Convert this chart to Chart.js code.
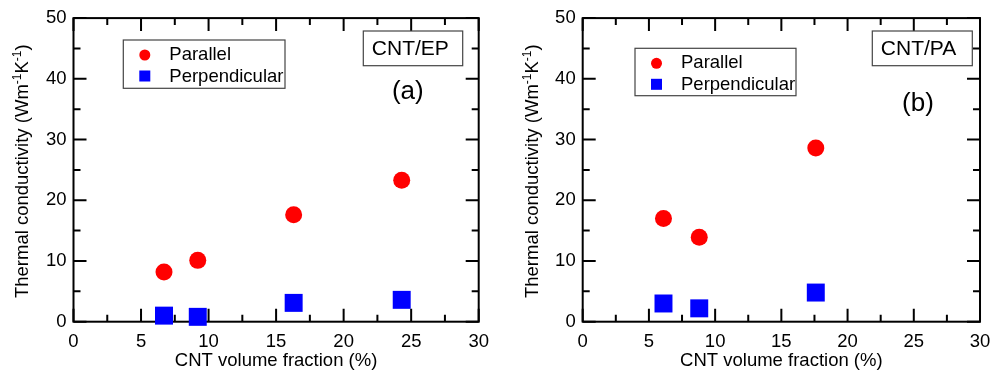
<!DOCTYPE html>
<html>
<head>
<meta charset="utf-8">
<script src="https://cdn.jsdelivr.net/npm/chart.js@4/dist/chart.umd.min.js"></script>
<style>
  html, body { margin: 0; padding: 0; background: #fff; }
  #wrap { position: relative; width: 999px; height: 374px; }
  canvas { position: absolute; top: 0; }
</style>
</head>
<body>
<div id="wrap">
  <canvas id="chartEP" width="500" height="374" style="left:0"></canvas>
  <canvas id="chartPA" width="499" height="374" style="left:500px"></canvas>
</div>
<script>
// Data
const seriesNames = ["Parallel", "Perpendicular"];

// (a) CNT/EP
const epFraction = [6.7, 9.2, 16.3, 24.3];
const epParallel = [8.2, 10.1, 17.6, 23.3];
const epPerpendicular = [1.0, 0.8, 3.1, 3.6];

// (b) CNT/PA
const paFraction = [6.1, 8.8, 17.6];
const paParallel = [17.0, 13.9, 28.6];
const paPerpendicular = [3.0, 2.2, 4.8];

// Axes
const xMin = 0, xMax = 30, xStep = 5, xMinor = 2.5;
const yMin = 0, yMax = 50, yStep = 10, yMinor = 5;
const xTitle = "CNT volume fraction (%)";
const yTitleParts = ["Thermal conductivity (Wm", "-1", "K", "-1", ")"];

const FONT = "'Liberation Sans', Arial, sans-serif";
const FS = 18.5;

function toPoints(xs, ys) {
  return xs.map((v, i) => ({ x: v, y: ys[i] }));
}

// frame, inward ticks, y title, legend box and labels
const framePlugin = {
  id: "frame",
  beforeDatasetsDraw(chart) {
    const { ctx, chartArea: a, scales: { x, y } } = chart;
    ctx.save();
    ctx.strokeStyle = "#000";
    ctx.lineWidth = 2;
    ctx.strokeRect(a.left, a.top, a.right - a.left, a.bottom - a.top);
    ctx.beginPath();
    for (let v = xMin; v <= xMax; v += xMinor) {
      const px = x.getPixelForValue(v);
      const len = v % xStep === 0 ? 13 : 7;
      ctx.moveTo(px, a.bottom); ctx.lineTo(px, a.bottom - len);
      ctx.moveTo(px, a.top); ctx.lineTo(px, a.top + len);
    }
    for (let v = yMin; v <= yMax; v += yMinor) {
      const py = y.getPixelForValue(v);
      const len = v % yStep === 0 ? 13 : 7;
      ctx.moveTo(a.left, py); ctx.lineTo(a.left + len, py);
      ctx.moveTo(a.right, py); ctx.lineTo(a.right - len, py);
    }
    ctx.stroke();
    ctx.restore();
  },
  afterDraw(chart, args, opts) {
    const { ctx, chartArea: a } = chart;
    ctx.save();

    // y axis title with superscripts
    const big = FS + "px " + FONT, small = "12px " + FONT;
    const widths = yTitleParts.map((t, i) => {
      ctx.font = i % 2 === 1 ? small : big;
      return ctx.measureText(t).width;
    });
    const total = widths.reduce((s, w) => s + w, 0);
    ctx.translate(a.left - 45.2, (a.top + a.bottom) / 2 + 1.3);
    ctx.rotate(-Math.PI / 2);
    ctx.fillStyle = "#000";
    ctx.textBaseline = "alphabetic";
    ctx.textAlign = "left";
    let pos = -total / 2;
    yTitleParts.forEach((t, i) => {
      const sup = i % 2 === 1;
      ctx.font = sup ? small : big;
      ctx.fillText(t, pos, sup ? -7 : 0);
      pos += widths[i];
    });
    ctx.restore();

    // legend
    const L = opts.legend;
    ctx.save();
    ctx.strokeStyle = "#444";
    ctx.lineWidth = 1.2;
    ctx.strokeRect(L.x, L.y, L.w, L.h);
    ctx.font = FS + "px " + FONT;
    ctx.textBaseline = "middle";
    ctx.fillStyle = "#ff0000";
    ctx.beginPath();
    ctx.arc(L.x + 21.5, L.y + 15, 5.5, 0, Math.PI * 2);
    ctx.fill();
    ctx.fillStyle = "#0000ff";
    ctx.fillRect(L.x + 16, L.y + 36 - 5.5, 11, 11);
    ctx.fillStyle = "#000";
    ctx.fillText(seriesNames[0], L.x + 46, L.y + 15);
    ctx.fillText(seriesNames[1], L.x + 46, L.y + 36.5);

    // sample label box and panel letter
    const B = opts.box;
    ctx.strokeRect(B.x, B.y, B.w, B.h);
    ctx.font = "21px " + FONT;
    ctx.textAlign = "left";
    ctx.fillText(B.text, B.x + 8.5, B.y + B.h / 2 + 0.5);
    ctx.font = "26px " + FONT;
    ctx.textAlign = "center";
    ctx.fillText(opts.letter.text, opts.letter.x, opts.letter.y);
    ctx.restore();
  }
};

function makeChart(id, fraction, parallel, perpendicular, panel) {
  return new Chart(document.getElementById(id), {
    type: "scatter",
    data: {
      datasets: [
        {
          label: seriesNames[0],
          data: toPoints(fraction, parallel),
          pointStyle: "circle",
          pointRadius: 8.5,
          pointHoverRadius: 8.5,
          backgroundColor: "#ff0000",
          borderWidth: 0,
          clip: false
        },
        {
          label: seriesNames[1],
          data: toPoints(fraction, perpendicular),
          pointStyle: "rect",
          pointRadius: 12.7,
          pointHoverRadius: 12.7,
          backgroundColor: "#0000ff",
          borderWidth: 0,
          clip: false
        }
      ]
    },
    options: {
      responsive: false,
      animation: false,
      layout: { padding: { top: 15.7, right: panel.padRight, left: 0, bottom: 0 } },
      plugins: {
        legend: { display: false },
        tooltip: { enabled: false },
        frame: panel
      },
      scales: {
        x: {
          type: "linear",
          min: xMin,
          max: xMax,
          border: { display: false },
          grid: { display: false, drawTicks: false },
          ticks: { stepSize: xStep, padding: 8.7, color: "#000", font: { family: FONT, size: FS } },
          title: {
            display: true,
            text: xTitle,
            color: "#000",
            font: { family: FONT, size: FS },
            padding: { top: 0, bottom: 1.5 }
          },
          afterFit(s) { s.height = 52.3; }
        },
        y: {
          type: "linear",
          min: yMin,
          max: yMax,
          border: { display: false },
          grid: { display: false, drawTicks: false },
          ticks: { stepSize: yStep, padding: 7, color: "#000", font: { family: FONT, size: FS } },
          afterFit(s) { s.width = panel.axisLeft; }
        }
      }
    },
    plugins: [framePlugin]
  });
}

makeChart("chartEP", epFraction, epParallel, epPerpendicular, {
  axisLeft: 73.5,
  padRight: 21.3,
  legend: { x: 123.3, y: 40, w: 161.7, h: 48.3 },
  box: { x: 363.3, y: 31, w: 99.4, h: 34.7, text: "CNT/EP" },
  letter: { text: "(a)", x: 407.8, y: 92 }
});

makeChart("chartPA", paFraction, paParallel, paPerpendicular, {
  axisLeft: 82.7,
  padRight: 11.7,
  legend: { x: 135, y: 48.3, w: 161, h: 47.4 },
  box: { x: 372.3, y: 31, w: 100, h: 34.7, text: "CNT/PA" },
  letter: { text: "(b)", x: 418, y: 103.5 }
});
</script>
</body>
</html>
